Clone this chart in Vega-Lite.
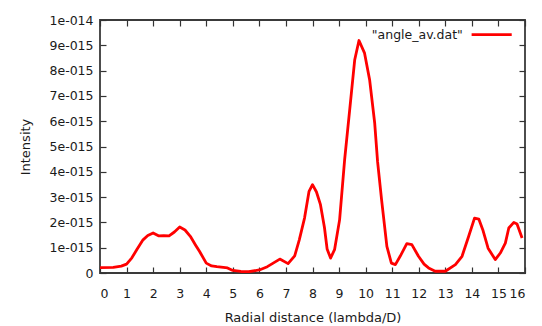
{
  "$schema": "https://vega.github.io/schema/vega-lite/v6.json",
  "autosize": "none",
  "width": 425,
  "height": 253,
  "padding": {"left": 100, "top": 20, "right": 17, "bottom": 53},
  "background": "white",
  "config": {
    "font": "DejaVu Sans",
    "view": {"stroke": "#3a3a3a", "strokeWidth": 1.8},
    "axis": {"grid": false, "domain": false, "tickColor": "#333333", "tickSize": -6, "tickWidth": 1.2, "labelFont": "DejaVu Sans", "labelFontSize": 12.5, "labelColor": "#1a1a1a", "titleFont": "DejaVu Sans", "titleFontSize": 13, "titleFontWeight": "normal", "titleColor": "#1a1a1a"}
  },
  "datasets": {
    "curve": [
      {"r": 0, "I": 0.21e-15}, {"r": 0.5, "I": 0.22e-15}, {"r": 0.8, "I": 0.27e-15}, {"r": 1.0, "I": 0.35e-15},
      {"r": 1.2, "I": 0.6e-15}, {"r": 1.4, "I": 0.95e-15}, {"r": 1.62, "I": 1.31e-15}, {"r": 1.8, "I": 1.48e-15},
      {"r": 2.0, "I": 1.58e-15}, {"r": 2.2, "I": 1.47e-15}, {"r": 2.4, "I": 1.48e-15}, {"r": 2.6, "I": 1.47e-15},
      {"r": 2.8, "I": 1.62e-15}, {"r": 3.0, "I": 1.82e-15}, {"r": 3.2, "I": 1.7e-15}, {"r": 3.4, "I": 1.45e-15},
      {"r": 3.6, "I": 1.1e-15}, {"r": 3.75, "I": 0.85e-15}, {"r": 4.0, "I": 0.39e-15}, {"r": 4.2, "I": 0.28e-15},
      {"r": 4.4, "I": 0.25e-15}, {"r": 4.8, "I": 0.2e-15}, {"r": 5.0, "I": 0.1e-15}, {"r": 5.3, "I": 0.06e-15},
      {"r": 5.6, "I": 0.05e-15}, {"r": 6.0, "I": 0.12e-15}, {"r": 6.3, "I": 0.25e-15}, {"r": 6.52, "I": 0.39e-15},
      {"r": 6.77, "I": 0.55e-15}, {"r": 7.08, "I": 0.37e-15}, {"r": 7.33, "I": 0.68e-15}, {"r": 7.5, "I": 1.3e-15},
      {"r": 7.7, "I": 2.17e-15}, {"r": 7.87, "I": 3.23e-15}, {"r": 8.0, "I": 3.49e-15}, {"r": 8.15, "I": 3.2e-15},
      {"r": 8.3, "I": 2.7e-15}, {"r": 8.45, "I": 1.8e-15}, {"r": 8.55, "I": 0.95e-15}, {"r": 8.68, "I": 0.59e-15},
      {"r": 8.83, "I": 0.92e-15}, {"r": 9.02, "I": 2.1e-15}, {"r": 9.21, "I": 4.48e-15}, {"r": 9.4, "I": 6.45e-15},
      {"r": 9.59, "I": 8.43e-15}, {"r": 9.75, "I": 9.19e-15}, {"r": 9.96, "I": 8.69e-15}, {"r": 10.15, "I": 7.64e-15},
      {"r": 10.34, "I": 5.94e-15}, {"r": 10.45, "I": 4.4e-15}, {"r": 10.6, "I": 2.9e-15}, {"r": 10.8, "I": 1.05e-15},
      {"r": 10.97, "I": 0.39e-15}, {"r": 11.12, "I": 0.33e-15}, {"r": 11.3, "I": 0.66e-15}, {"r": 11.55, "I": 1.16e-15},
      {"r": 11.74, "I": 1.12e-15}, {"r": 11.99, "I": 0.66e-15}, {"r": 12.2, "I": 0.35e-15}, {"r": 12.37, "I": 0.2e-15},
      {"r": 12.62, "I": 0.07e-15}, {"r": 13.0, "I": 0.07e-15}, {"r": 13.38, "I": 0.33e-15}, {"r": 13.63, "I": 0.66e-15},
      {"r": 13.88, "I": 1.45e-15}, {"r": 14.1, "I": 2.17e-15}, {"r": 14.26, "I": 2.13e-15}, {"r": 14.41, "I": 1.71e-15},
      {"r": 14.61, "I": 0.98e-15}, {"r": 14.88, "I": 0.53e-15}, {"r": 15.07, "I": 0.79e-15}, {"r": 15.26, "I": 1.18e-15},
      {"r": 15.39, "I": 1.78e-15}, {"r": 15.58, "I": 2.0e-15}, {"r": 15.7, "I": 1.94e-15}, {"r": 15.89, "I": 1.38e-15}
    ],
    "legend": [
      {"r": 13.66, "r2": 13.99, "r3": 15.5, "I": 9.42e-15, "label": "\"angle_av.dat\""}
    ]
  },
  "resolve": {"axis": {"x": "independent", "y": "independent"}},
  "layer": [
    {
      "data": {"name": "curve"},
      "mark": {"type": "line", "color": "#ff0000", "strokeWidth": 2.8, "strokeJoin": "round", "clip": true},
      "encoding": {
        "x": {"field": "r", "type": "quantitative", "scale": {"domain": [0, 16], "nice": false, "zero": false},
          "axis": {"orient": "bottom", "values": [0,1,2,3,4,5,6,7,8,9,10,11,12,13,14,15,16], "labelPadding": 20, "title": "Radial distance (lambda/D)", "titlePadding": 12}},
        "y": {"field": "I", "type": "quantitative", "scale": {"domain": [0, 1e-14], "nice": false},
          "axis": {"orient": "left", "values": [0, 1e-15, 2e-15, 3e-15, 4e-15, 5e-15, 6e-15, 7e-15, 8e-15, 9e-15, 1e-14], "labelPadding": 13,
            "labelExpr": "datum.value == 0 ? '0' : (datum.value > 9.5e-15 ? '1e-014' : round(datum.value * 1e15) + 'e-015')",
            "title": "Intensity", "titlePadding": 16}}
      }
    },
    {
      "data": {"name": "curve"},
      "mark": {"type": "line", "strokeOpacity": 0},
      "encoding": {
        "x": {"field": "r", "type": "quantitative", "axis": {"orient": "top", "values": [0,1,2,3,4,5,6,7,8,9,10,11,12,13,14,15,16], "labels": false, "title": null}},
        "y": {"field": "I", "type": "quantitative", "axis": {"orient": "right", "values": [0, 1e-15, 2e-15, 3e-15, 4e-15, 5e-15, 6e-15, 7e-15, 8e-15, 9e-15, 1e-14], "labels": false, "title": null}}
      }
    },
    {
      "data": {"name": "legend"},
      "mark": {"type": "text", "align": "right", "baseline": "middle", "fontSize": 12.5, "color": "#1a1a1a"},
      "encoding": {
        "x": {"field": "r", "type": "quantitative", "axis": null},
        "y": {"field": "I", "type": "quantitative", "axis": null},
        "text": {"field": "label"}
      }
    },
    {
      "data": {"name": "legend"},
      "mark": {"type": "rule", "color": "#ff0000", "strokeWidth": 2.8},
      "encoding": {
        "x": {"field": "r2", "type": "quantitative", "axis": null},
        "x2": {"field": "r3"},
        "y": {"field": "I", "type": "quantitative", "axis": null}
      }
    }
  ]
}
